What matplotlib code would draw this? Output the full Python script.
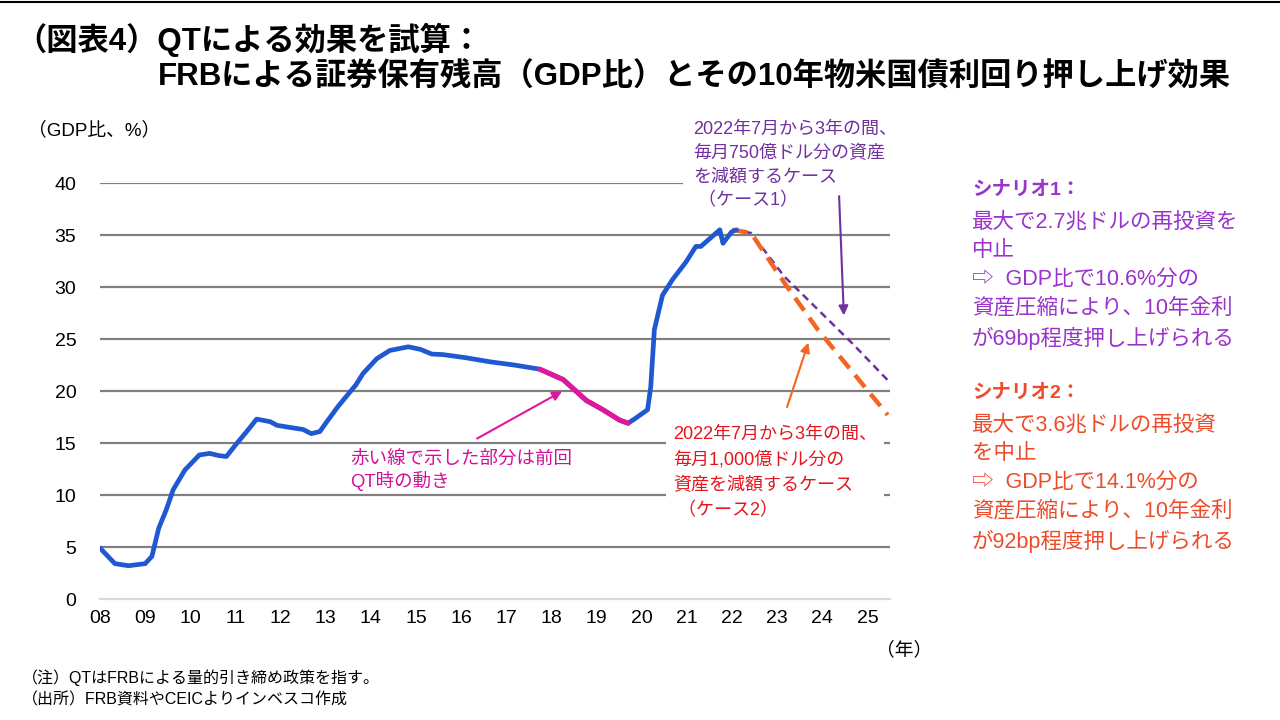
import matplotlib.pyplot as plt
import numpy as np

plt.rcParams['font.family'] = ['Liberation Sans', 'Noto Sans CJK JP', 'DejaVu Sans']

# FRB保有証券残高 (GDP比, %)
years = [2008.0, 2008.33, 2008.63, 2009.0, 2009.15, 2009.3, 2009.47, 2009.62, 2009.88,
         2010.2, 2010.43, 2010.62, 2010.8, 2011.0, 2011.25, 2011.47, 2011.77, 2011.92,
         2012.2, 2012.5, 2012.68, 2012.87, 2013.0, 2013.27, 2013.67, 2013.83, 2014.13,
         2014.42, 2014.83, 2015.1, 2015.35, 2015.6, 2016.1, 2016.65, 2017.17, 2017.74,
         2018.26, 2018.77, 2019.14, 2019.51, 2019.7, 2019.87, 2020.13, 2020.2, 2020.28,
         2020.46, 2020.68, 2020.98, 2021.2, 2021.31, 2021.73, 2021.8, 2021.99, 2022.1]
values = [4.9, 3.4, 3.2, 3.4, 4.1, 6.8, 8.6, 10.5, 12.4,
          13.85, 14.0, 13.8, 13.7, 14.8, 16.1, 17.3, 17.05, 16.7,
          16.5, 16.3, 15.9, 16.1, 16.9, 18.5, 20.6, 21.7, 23.1,
          23.9, 24.25, 24.0, 23.55, 23.5, 23.2, 22.8, 22.5, 22.1,
          21.1, 19.1, 18.2, 17.2, 16.9, 17.4, 18.2, 20.4, 25.9,
          29.2, 30.7, 32.4, 33.9, 33.9, 35.5, 34.2, 35.3, 35.5]
qt_start, qt_end = 2017.74, 2019.7   # 前回QT期間

# 試算
case1_years = [2022.0, 2022.42, 2023.16, 2024.66, 2025.48]
case1_vals = [35.5, 35.2, 31.0, 24.6, 20.9]
case2_years = [2022.0, 2022.42, 2023.16, 2023.9, 2025.45]
case2_vals = [35.5, 35.2, 30.4, 25.9, 17.7]

xticks = list(range(2008, 2026))
xlabels = ['%02d' % (y % 100) for y in xticks]
yticks = [0, 5, 10, 15, 20, 25, 30, 35, 40]

fig = plt.figure(figsize=(12.8, 7.2), dpi=100)
ax = fig.add_axes([100/1280, 1-599/720, 790/1280, (599-183)/720])

yrs = np.array(years)
vals = np.array(values)
ax.plot(yrs, vals, color='#1F58D0', lw=3.4, solid_capstyle='round', zorder=4)
m = (yrs >= qt_start) & (yrs <= qt_end)
ax.plot(yrs[m], vals[m], color='#E0169B', lw=3.6, solid_capstyle='round', zorder=5)
ax.plot(case1_years, case1_vals, color='#7030A0', lw=1.8, ls=(0, (3, 2)), zorder=3)
ax.plot(case2_years, case2_vals, color='#F26522', lw=3.2, ls=(0, (3.5, 2)), zorder=3)

ax.set_xlim(2008, 2025.5)
ax.set_ylim(0, 40)
ax.set_xticks(xticks)
ax.set_xticklabels(xlabels)
ax.set_yticks(yticks)
ax.tick_params(length=0, labelsize=14, pad=8)
ax.tick_params(axis='y', pad=17)
for y in yticks[1:-1]:
    ax.axhline(y, color='#808080', lw=1.6, zorder=1)
ax.axhline(40, xmax=(682-100)/790, color='#808080', lw=1.6, zorder=1)
for s in ['top', 'right', 'left']:
    ax.spines[s].set_visible(False)
ax.spines['bottom'].set_color('#D9D9D9')
ax.spines['bottom'].set_linewidth(1.6)

# annotations
ax.annotate('', xy=(2018.29, 20.1), xytext=(2016.3, 15.3),
            arrowprops=dict(arrowstyle='-|>', color='#E0169B', lw=1.5, mutation_scale=14), zorder=6)
ax.annotate('', xy=(2024.48, 27.0), xytext=(2024.37, 39.0),
            arrowprops=dict(arrowstyle='-|>', color='#7030A0', lw=1.5, mutation_scale=14), zorder=6)
ax.annotate('', xy=(2023.71, 24.9), xytext=(2023.2, 18.2),
            arrowprops=dict(arrowstyle='-|>', color='#F26522', lw=1.5, mutation_scale=14), zorder=6)

def px(x, y):
    return x/1280, 1-y/720

fig.text(*px(693, 121), '2022年7月から3年の間、\n毎月750億ドル分の資産\nを減額するケース\n （ケース1）',
         color='#7030A0', fontsize=13, va='top', ha='left', linespacing=1.5)
fig.text(*px(350, 451), '赤い線で示した部分は前回\nQT時の動き', color='#D0129B',
         fontsize=13.3, va='top', ha='left', linespacing=1.2)
fig.text(*px(673, 426), '2022年7月から3年の間、\n毎月1,000億ドル分の\n資産を減額するケース\n （ケース2）',
         color='#E8141C', fontsize=13, va='top', ha='left', linespacing=1.6,
         bbox=dict(facecolor='white', edgecolor='none', pad=5))

fig.text(*px(972, 182), 'シナリオ1：', color='#9933CC', fontsize=14, fontweight='bold', va='top')
fig.text(*px(972, 212), '最大で2.7兆ドルの再投資を\n中止\n⇨  GDP比で10.6%分の\n資産圧縮により、10年金利\nが69bp程度押し上げられる',
         color='#9933CC', fontsize=15.5, va='top', linespacing=1.46)
fig.text(*px(972, 385), 'シナリオ2：', color='#EE4B2B', fontsize=14, fontweight='bold', va='top')
fig.text(*px(972, 415), '最大で3.6兆ドルの再投資\nを中止\n⇨  GDP比で14.1%分の\n資産圧縮により、10年金利\nが92bp程度押し上げられる',
         color='#EE4B2B', fontsize=15.5, va='top', linespacing=1.46)

fig.text(*px(28, 130), '（GDP比、%）', fontsize=13.5, va='center')
fig.text(*px(876, 650), '（年）', fontsize=13.5, va='center')
fig.text(*px(22, 678), '（注）QTはFRBによる量的引き締め政策を指す。', fontsize=11.5, va='center')
fig.text(*px(22, 700), '（出所）FRB資料やCEICよりインベスコ作成', fontsize=11.5, va='center')

fig.text(*px(15, 40), '（図表4）QTによる効果を試算：', fontsize=22.5, fontweight='bold', va='center')
fig.text(*px(158, 78), 'FRBによる証券保有残高（GDP比）とその10年物米国債利回り押し上げ効果',
         fontsize=22.5, fontweight='bold', va='center')
fig.add_artist(plt.Line2D([0, 1], [1-2/720, 1-2/720], color='black', lw=1.5))

fig.savefig('out.png', dpi=100)
